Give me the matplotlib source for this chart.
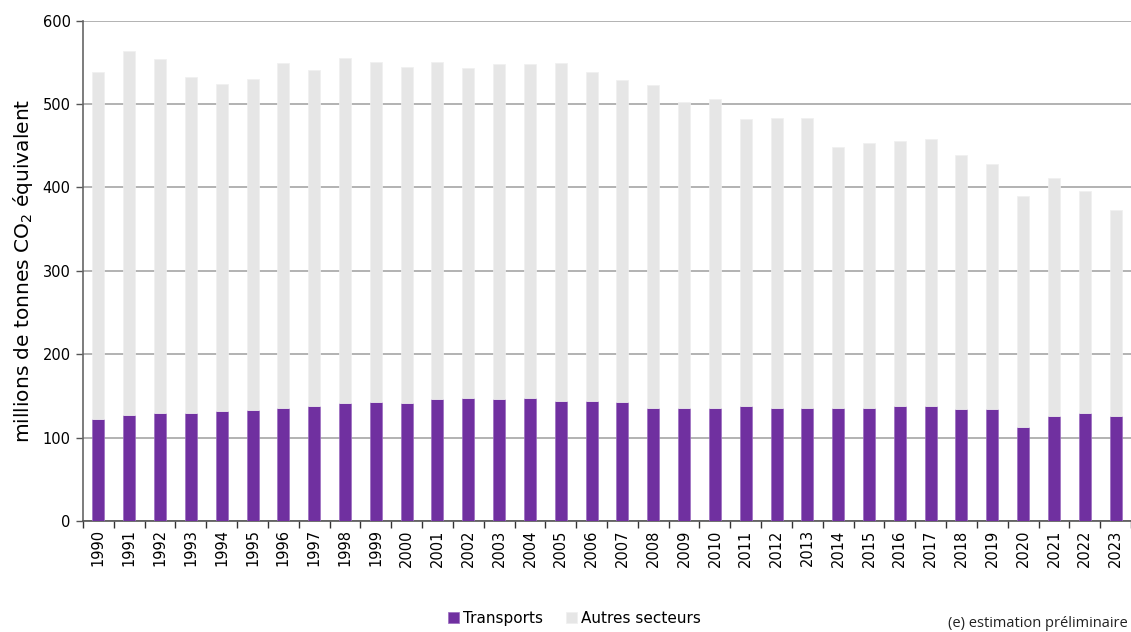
"""
Emissions de GES : transports vs autres secteurs, 1990-2023.
"""

import matplotlib.pyplot as plt
import numpy as np

years = [str(y) for y in range(1990, 2024)]

# total emissions (top of stacked bar), Mt CO2e
total = [539, 564, 554, 533, 524, 530, 549, 541, 555, 550,
         545, 550, 543, 548, 548, 549, 538, 529, 523, 502,
         506, 482, 483, 483, 449, 453, 456, 458, 439, 428,
         390, 411, 396, 373]

transports = [122, 127, 130, 130, 132, 133, 136, 138, 141, 143,
              142, 146, 147, 146, 147, 144, 144, 143, 136, 136,
              136, 138, 136, 136, 135, 136, 138, 138, 134, 134,
              113, 126, 130, 126]

autres = [t - tr for t, tr in zip(total, transports)]

PURPLE = "#7030A0"
GREY = "#E6E6E6"

plt.rcParams["font.family"] = ["DejaVu Sans"]

fig = plt.figure(figsize=(11.31, 6.32), dpi=100)
ax = fig.add_axes([0.0734, 0.1756, 0.9266, 0.7916])

x = np.arange(len(years))
ax.bar(x, transports, width=0.39, color=PURPLE, edgecolor="#9b6cc0",
       linewidth=0.5, label="Transports", zorder=3)
ax.bar(x, autres, width=0.39, bottom=transports, color=GREY, edgecolor="#f0f0f0",
       linewidth=0.5, label="Autres secteurs", zorder=3)

ax.set_xlim(-0.5, len(years) - 0.5)
ax.set_ylim(0, 600)
ax.set_yticks(range(0, 601, 100))
ax.tick_params(axis="y", labelsize=10.5, length=5, width=1, color="#555555",
               direction="out", pad=4)

# labels centred on bars, tick marks between categories
ax.set_xticks(x)
ax.set_xticklabels(years, rotation=90, fontsize=10.5)
ax.set_xticks(np.arange(-0.5, len(years), 1), minor=True)
ax.tick_params(axis="x", which="major", length=0, pad=6)
ax.tick_params(axis="x", which="minor", length=5, width=1, color="#333333")

ax.grid(axis="y", color="#A6A6A6", linewidth=1.2, zorder=0)
for side in ["top", "right"]:
    ax.spines[side].set_visible(False)
ax.spines["left"].set_color("#666666")
ax.spines["left"].set_linewidth(1.2)
ax.spines["bottom"].set_color("#555555")
ax.spines["bottom"].set_linewidth(1.2)

ax.set_ylabel("millions de tonnes CO$_2$ équivalent", fontsize=14.5, labelpad=5)

fig.legend(loc="center", bbox_to_anchor=(0.508, 0.022), ncol=2, frameon=False,
           fontsize=11, handlelength=0.7, handleheight=0.7, columnspacing=1.5,
           handletextpad=0.3)

fig.text(0.997, 0.002, "(e) estimation préliminaire", fontsize=10.5,
         family="Open Sans", va="bottom", ha="right", color="#222222")

fig.savefig("out.png", dpi=100)
